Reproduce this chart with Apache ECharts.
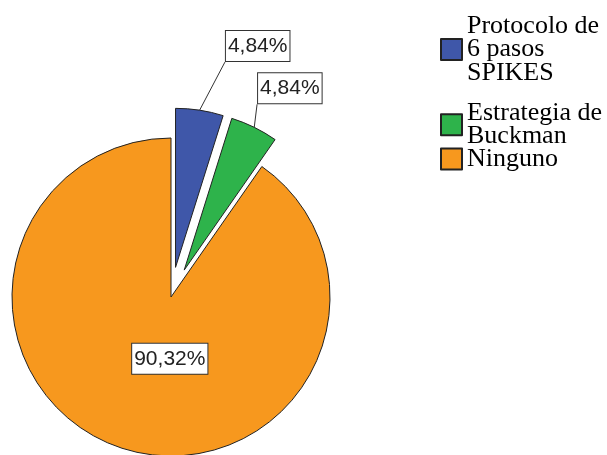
<!DOCTYPE html>
<html>
<head>
<meta charset="utf-8">
<script src="https://cdn.jsdelivr.net/npm/echarts@6/dist/echarts.min.js"></script>
<style>
  html, body { margin: 0; padding: 0; background: #fff; }
  #chart { width: 607px; height: 455px; }
</style>
</head>
<body>
<div id="chart"></div>
<script>
// Categories and their shares (%)
const categories = ['Protocolo de\n6 pasos\nSPIKES', 'Estrategia de\nBuckman', 'Ninguno'];
const shares = [4.84, 4.84, 90.32];
const exploded = [true, true, false];
const colors = ['#3F57A9', '#2EB34B', '#F7981E'];

// Label nudges relative to the default label placement (dx, dy)
const labelShift = [[16, -29.5], [-40, -24], [23.5, -17]];

const chart = echarts.init(document.getElementById('chart'), null, { renderer: 'canvas' });

const fmt = v => v.toFixed(2).replace('.', ',') + '%';

const legendText = {
  fontFamily: '"Liberation Serif", "DejaVu Serif", serif',
  fontSize: 26,
  lineHeight: 23.5,
  color: '#000'
};

const legendBase = {
  orient: 'vertical',
  left: 440,
  padding: 0,
  itemWidth: 21,
  itemHeight: 21,
  icon: 'rect',
  selectedMode: false,
  textStyle: legendText
};

chart.setOption({
  animation: false,
  backgroundColor: '#fff',
  legend: [
    Object.assign({}, legendBase, { top: 13, itemGap: 14, data: categories.slice(0, 2) }),
    Object.assign({}, legendBase, { top: 146, data: categories.slice(2) })
  ],
  series: [{
    type: 'pie',
    center: [171, 297],
    radius: 159,
    startAngle: 90,
    clockwise: true,
    selectedMode: 'multiple',
    selectedOffset: 30,
    emphasis: { disabled: true },
    select: { itemStyle: { borderColor: '#222', borderWidth: 1 } },
    itemStyle: { borderColor: '#222', borderWidth: 1 },
    label: {
      show: true,
      position: 'outside',
      formatter: p => fmt(p.value),
      fontFamily: '"Liberation Sans", Arial, sans-serif',
      fontSize: 21,
      color: '#222',
      backgroundColor: '#fff',
      borderColor: '#333',
      borderWidth: 1,
      padding: [5, 2, 4, 2]
    },
    labelLine: {
      show: true,
      length: 35,
      length2: 0,
      lineStyle: { color: '#333', width: 1 }
    },
    labelLayout: p => {
      const s = labelShift[p.dataIndex];
      const out = { dx: s[0], dy: s[1] };
      if (p.labelLinePoints && p.dataIndex !== 2) {
        const r = p.labelRect;
        // leader runs from the slice edge to the lower-left corner of the moved box
        out.labelLinePoints = [
          p.labelLinePoints[0].slice(),
          [r.x + s[0], r.y + r.height + s[1]]
        ];
      }
      return out;
    },
    data: categories.map((name, i) => ({
      name: name,
      value: shares[i],
      selected: exploded[i],
      itemStyle: { color: colors[i] },
      label: i === 2 ? { position: 'inside' } : undefined,
      labelLine: i === 2 ? { show: false } : undefined
    }))
  }]
});
</script>
</body>
</html>
